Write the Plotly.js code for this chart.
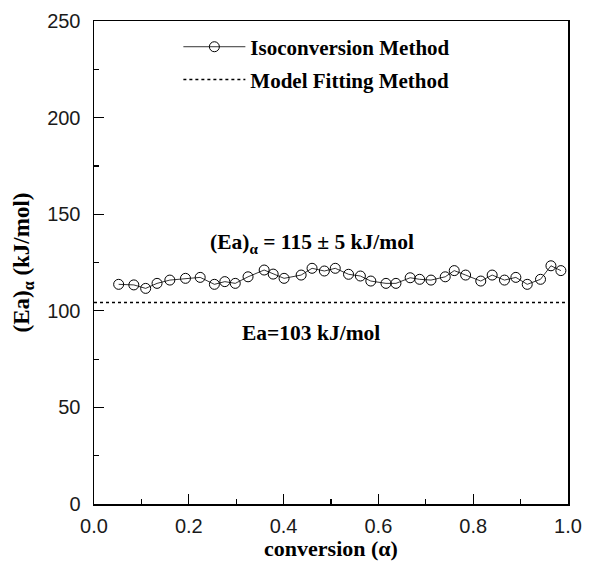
<!DOCTYPE html>
<html><head><meta charset="utf-8">
<script src="https://cdn.plot.ly/plotly-3.0.1.min.js"></script>
<style>body{margin:0;background:#fff}#c{width:592px;height:562px}</style>
</head><body><div id="c"></div>
<script>
const conversion = [0.052,0.084,0.109,0.133,0.160,0.193,0.224,0.254,0.276,0.298,0.325,0.359,0.378,0.401,0.437,0.460,0.486,0.509,0.537,0.562,0.584,0.616,0.637,0.667,0.687,0.711,0.741,0.760,0.784,0.816,0.840,0.866,0.890,0.914,0.942,0.964,0.985];
const eaIso = [113.7,113.4,111.6,114.2,115.9,116.8,117.3,113.7,115.1,114.2,117.6,121.1,119.0,116.8,118.5,122.0,120.6,122.0,118.9,118.0,115.4,114.2,114.2,117.1,116.3,115.9,117.6,120.8,118.5,115.4,118.5,115.9,117.3,113.7,116.3,123.3,120.8];
const modelX = [0, 1];
const modelEa = [104.3, 104.3];
const xTickVals = [0,0.2,0.4,0.6,0.8,1.0];
const xTickText = ['0.0','0.2','0.4','0.6','0.8','1.0'];
const yTickVals = [0,50,100,150,200,250];

const serif = "Liberation Serif, Times New Roman, serif";
const sans = "Liberation Sans, Arial, sans-serif";

const traces = [
  {x: conversion, y: eaIso, type:'scatter', mode:'lines+markers', name:'<b>Isoconversion Method</b>',
   legend:'legend',
   line:{color:'#000', width:0.8},
   marker:{symbol:'circle-open', size:10, color:'#000', line:{width:1, color:'#000'}}},
  {x: modelX, y: modelEa, type:'scatter', mode:'lines', name:'<b>Model Fitting Method</b>',
   legend:'legend2',
   line:{color:'#000', width:1.5, dash:'dot'}}
];

const legFont = {family:serif, size:21, color:'#000'};
const layout = {
  width:592, height:562,
  margin:{l:94, r:24, t:21, b:58},
  paper_bgcolor:'#fff', plot_bgcolor:'#fff',
  showlegend:true,
  legend:{x:0.178, y:0.946, xanchor:'left', yanchor:'middle', bgcolor:'rgba(0,0,0,0)',
    font:legFont, itemwidth:62},
  legend2:{x:0.178, y:0.878, xanchor:'left', yanchor:'middle', bgcolor:'rgba(0,0,0,0)',
    font:legFont, itemwidth:62},
  xaxis:{range:[0,1], tickvals:xTickVals, ticktext:xTickText,
    ticks:'inside', ticklen:10, tickwidth:1.2, tickcolor:'#000', ticklabelstandoff:3,
    minor:{dtick:0.1, ticks:'inside', ticklen:5, tickwidth:1.2, tickcolor:'#000'},
    showline:true, linecolor:'#000', linewidth:1.5, mirror:true, showgrid:false, zeroline:false,
    tickfont:{family:sans, size:20, color:'#1a1a1a'},
    title:{text:'<b>conversion (α)</b>', font:{family:serif, size:22, color:'#000'}, standoff:0}},
  yaxis:{range:[0,250], tickvals:yTickVals,
    ticks:'inside', ticklen:10, tickwidth:1.2, tickcolor:'#000', ticklabelstandoff:8,
    minor:{dtick:25, ticks:'inside', ticklen:5, tickwidth:1.2, tickcolor:'#000'},
    showline:true, linecolor:'#000', linewidth:1.5, mirror:true, showgrid:false, zeroline:false,
    tickfont:{family:sans, size:20, color:'#1a1a1a'},
    title:{text:'<b>(Ea)<sub>α</sub> (kJ/mol)</b>', font:{family:serif, size:23, color:'#000'}, standoff:11}},
  annotations:[
    {x:0.241, y:135, xref:'x', yref:'y', xanchor:'left', yanchor:'middle', showarrow:false,
     text:'<b>(Ea)<sub>α</sub> = 115 ± 5 kJ/mol</b>', font:{family:serif, size:21.5, color:'#000'}},
    {x:0.309, y:88.5, xref:'x', yref:'y', xanchor:'left', yanchor:'middle', showarrow:false,
     text:'<b>Ea=103 kJ/mol</b>', font:{family:serif, size:21.5, color:'#000'}}
  ]
};
Plotly.newPlot('c', traces, layout, {displayModeBar:false, staticPlot:true});
</script></body></html>
